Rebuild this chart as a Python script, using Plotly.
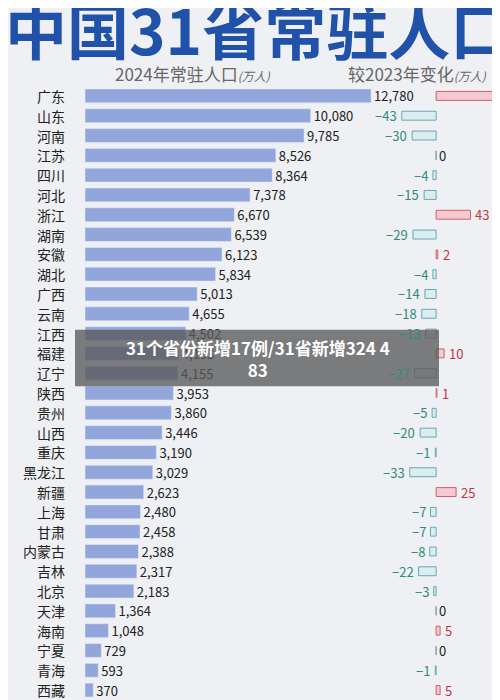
import plotly.graph_objects as go

provinces = ["广东", "山东", "河南", "江苏", "四川", "河北", "浙江", "湖南", "安徽", "湖北",
             "广西", "云南", "江西", "福建", "辽宁", "陕西", "贵州", "山西", "重庆", "黑龙江",
             "新疆", "上海", "甘肃", "内蒙古", "吉林", "北京", "天津", "海南", "宁夏", "青海", "西藏"]
pop_2024 = [12780, 10080, 9785, 8526, 8364, 7378, 6670, 6539, 6123, 5834,
            5013, 4655, 4502, 4193, 4155, 3953, 3860, 3446, 3190, 3029,
            2623, 2480, 2458, 2388, 2317, 2183, 1364, 1048, 729, 593, 370]
change = [72, -43, -30, 0, -4, -15, 43, -29, 2, -4,
          -14, -18, -13, 10, -27, 1, -5, -20, -1, -33,
          25, -7, -7, -8, -22, -3, 0, 5, 0, -1, 5]

pos_fill, pos_line, pos_text = "#f5c9d0", "#d0606e", "#c8323f"
neg_fill, neg_line, neg_text = "#d9eef1", "#6aa7ae", "#2e8c7c"

fig = go.Figure()
fig.add_trace(go.Bar(
    y=provinces, x=pop_2024, orientation="h",
    marker=dict(color="#93a6dc"), width=0.7,
    text=[f"{v:,}" for v in pop_2024], textposition="outside", constraintext="none",
    textfont=dict(size=13, color="#222"), cliponaxis=False,
    xaxis="x", yaxis="y", showlegend=False))

fig.add_trace(go.Bar(
    y=provinces, x=change, orientation="h", width=0.45,
    marker=dict(color=[pos_fill if c > 0 else neg_fill for c in change],
                line=dict(color=[pos_line if c > 0 else neg_line for c in change], width=1)),
    xaxis="x2", yaxis="y", showlegend=False))

# change labels
for p, c in zip(provinces, change):
    if c > 0:
        fig.add_annotation(x=c, y=p, xref="x2", yref="y", text=str(c), xanchor="left",
                           xshift=3, showarrow=False, font=dict(size=13, color=pos_text))
    elif c < 0:
        fig.add_annotation(x=c, y=p, xref="x2", yref="y", text=f"−{-c}", xanchor="right",
                           xshift=-3, showarrow=False, font=dict(size=13, color=neg_text))
    else:
        fig.add_annotation(x=0, y=p, xref="x2", yref="y", text="0", xanchor="center",
                           xshift=6, showarrow=False, font=dict(size=13, color="#222"))

for p in provinces:
    fig.add_annotation(x=0.118, y=p, xref="paper", yref="y", text=p, xanchor="right",
                       showarrow=False, font=dict(size=14, color="#222"))

fig.add_annotation(x=-0.01, y=1.0, xref="paper", yref="paper", yanchor="middle",
                   yshift=58, text="<b>中国31省常驻人口</b>", xanchor="left", showarrow=False,
                   font=dict(size=62, color="#1f52a8", family="Noto Sans CJK SC"))
fig.add_annotation(x=0.21, y=1.0, xref="paper", yref="paper", yshift=-2, yanchor="bottom",
                   xanchor="left",
                   text="2024年常驻人口<i><span style='font-size:12px'>(万人)</span></i>",
                   showarrow=False, font=dict(size=17, color="#666"))
fig.add_annotation(x=0.675, y=1.0, xref="paper", yref="paper", yshift=-2, yanchor="bottom",
                   xanchor="left",
                   text="较2023年变化<i><span style='font-size:12px'>(万人)</span></i>",
                   showarrow=False, font=dict(size=17, color="#666"))

# overlay caption
fig.add_shape(type="rect", xref="paper", yref="paper", x0=0.134, x1=0.862,
              y0=0.511, y1=0.603, fillcolor="rgba(90,90,90,0.78)", line_width=0, layer="above")
fig.add_annotation(x=0.5, y=0.557, xref="paper", yref="paper", showarrow=False,
                   text="<b>31个省份新增17例/31省新增324 4<br>83</b>",
                   font=dict(size=17, color="white"))

fig.update_layout(
    width=500, height=700,
    margin=dict(l=0, r=0, t=78, b=8),
    paper_bgcolor="#eef0f3", plot_bgcolor="#eef0f3",
    font=dict(family="Noto Sans CJK SC"),
    xaxis=dict(domain=[0.154, 0.77], range=[0, 13760], visible=False),
    xaxis2=dict(domain=[0.77, 1.0], range=[-54, 90], visible=False, anchor="y"),
    yaxis=dict(range=[30.5, -0.5], visible=False, categoryorder="array",
               categoryarray=provinces),
)

fig.write_html("out.html")
